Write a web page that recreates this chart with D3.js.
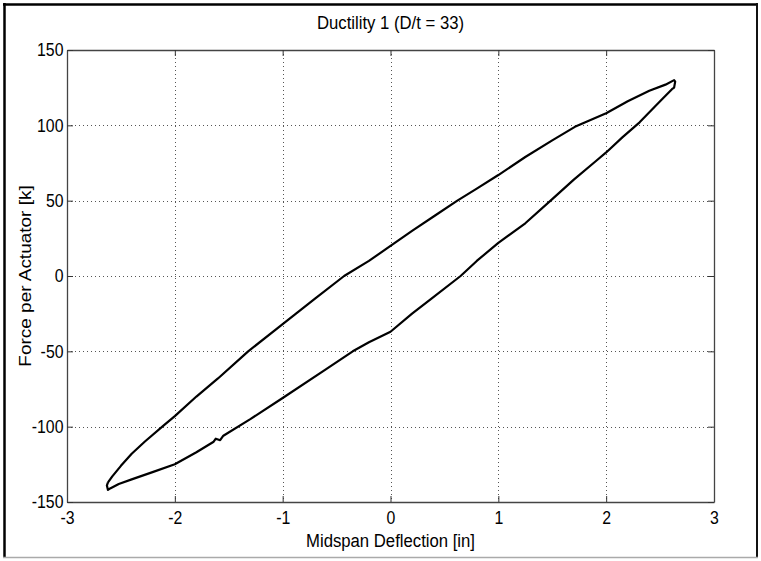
<!DOCTYPE html>
<html><head><meta charset="utf-8">
<script src="https://cdn.jsdelivr.net/npm/d3@7"></script>
<style>html,body{margin:0;padding:0;background:#fff;}svg{display:block;}</style>
</head><body>
<svg id="c" width="761" height="561"></svg>
<script>
const title = "Ductility 1 (D/t = 33)";
const xLabel = "Midspan Deflection [in]";
const yLabel = "Force per Actuator [k]";
const xTicks = [-3, -2, -1, 0, 1, 2, 3];
const yTicks = [-150, -100, -50, 0, 50, 100, 150];
// hysteresis loop: deflection [in] and force [k], one closed path
const deflection = [-2.62,-2.58,-2.50,-2.40,-2.28,-2.10,-2.00,-1.80,-1.60,-1.32,-1.00,-0.70,-0.43,-0.20,0.00,0.20,0.41,0.62,0.80,1.00,1.25,1.50,1.71,2.00,2.20,2.40,2.55,2.63,2.64,2.63,
  2.61,2.50,2.31,2.15,2.00,1.90,1.70,1.50,1.25,1.00,0.80,0.65,0.38,0.20,0.00,-0.20,-0.35,-0.60,-1.00,-1.30,-1.55,-1.58,-1.62,-1.64,-1.80,-2.00,-2.20,-2.40,-2.52,-2.60,-2.62,-2.63,-2.62];
const force = [-137,-133,-126,-118,-110,-99,-93,-80,-68,-50,-32,-15,0,10,20,30,40,50,58,67,79,90,99,108,116,123,127,130,129,125,
  124,116,102,92,82,76,64,51,35,22,10,0,-15,-25,-37,-44,-50,-62,-81,-95,-106,-109,-108,-110,-117,-125,-130,-135,-138,-141,-142,-139,-137];

const svg = d3.select("#c");
const L = 67, R = 714, T = 50, B = 502;
const x = d3.scaleLinear().domain([-3, 3]).range([L, R]);
const y = d3.scaleLinear().domain([-150, 150]).range([B, T]);
const font = "'Liberation Sans', Arial, Helvetica, sans-serif";
const sx = 0.88;

// outer frame
svg.append("line").attr("x1",4.5).attr("y1",3).attr("x2",4.5).attr("y2",558).attr("stroke","#000").attr("stroke-width",2.5);
svg.append("line").attr("x1",3).attr("y1",4.5).attr("x2",758).attr("y2",4.5).attr("stroke","#000").attr("stroke-width",2.5);
svg.append("line").attr("x1",757).attr("y1",3).attr("x2",757).attr("y2",558).attr("stroke","#111").attr("stroke-width",2);
svg.append("line").attr("x1",3).attr("y1",557.5).attr("x2",758).attr("y2",557.5).attr("stroke","#aaa").attr("stroke-width",1.5);

// grid
const grid = svg.append("g").attr("stroke","#555").attr("stroke-width",1).attr("stroke-dasharray","1,3");
grid.selectAll(".gx").data(xTicks.slice(1,-1)).enter().append("line")
  .attr("x1",d=>Math.round(x(d))+0.5).attr("x2",d=>Math.round(x(d))+0.5).attr("y1",T).attr("y2",B);
grid.selectAll(".gy").data(yTicks.slice(1,-1)).enter().append("line")
  .attr("y1",d=>Math.round(y(d))+0.5).attr("y2",d=>Math.round(y(d))+0.5).attr("x1",L).attr("x2",R);

// axes with inward ticks on all sides
const tl = 6;
const fmt = d => String(d);
const axB = svg.append("g").attr("transform",`translate(0,${B})`)
  .call(d3.axisBottom(x).tickValues(xTicks).tickSizeInner(-tl).tickSizeOuter(0).tickPadding(9).tickFormat(fmt));
const axT = svg.append("g").attr("transform",`translate(0,${T})`)
  .call(d3.axisTop(x).tickValues(xTicks).tickSizeInner(-tl).tickSizeOuter(0).tickFormat(""));
const axL = svg.append("g").attr("transform",`translate(${L},0)`)
  .call(d3.axisLeft(y).tickValues(yTicks).tickSizeInner(-tl).tickSizeOuter(0).tickPadding(4).tickFormat(fmt));
const axR = svg.append("g").attr("transform",`translate(${R},0)`)
  .call(d3.axisRight(y).tickValues(yTicks).tickSizeInner(-tl).tickSizeOuter(0).tickFormat(""));
[axB,axT,axL,axR].forEach(a=>{
  a.select(".domain").attr("stroke","#444").attr("stroke-width",1.3);
  a.selectAll(".tick line").attr("stroke","#333");
  a.selectAll("text").attr("font-family",font).attr("font-size",18).attr("fill","#000")
    .attr("transform",`scale(${sx},1)`);
});
axB.selectAll("text").attr("dy","0.71em");

// data line
const line = d3.line().x((d,i)=>x(deflection[i])).y((d,i)=>y(force[i])).curve(d3.curveLinear);
svg.append("path").datum(deflection).attr("d",line).attr("fill","none")
  .attr("stroke","#000").attr("stroke-width",2.2).attr("stroke-linejoin","round");

// labels
function label(tx, ty, rot, txt, size){
  svg.append("g").attr("transform",`translate(${tx},${ty}) rotate(${rot})`)
    .append("text").attr("transform",rot ? `scale(1,${sx})` : `scale(${sx},1)`)
    .attr("text-anchor","middle").attr("font-family",font).attr("font-size",size).text(txt);
}
label((L+R)/2, 29, 0, title, 19);
label((L+R)/2, 547, 0, xLabel, 19);
label(31, (T+B)/2, -90, yLabel, 19);
</script>
</body></html>
